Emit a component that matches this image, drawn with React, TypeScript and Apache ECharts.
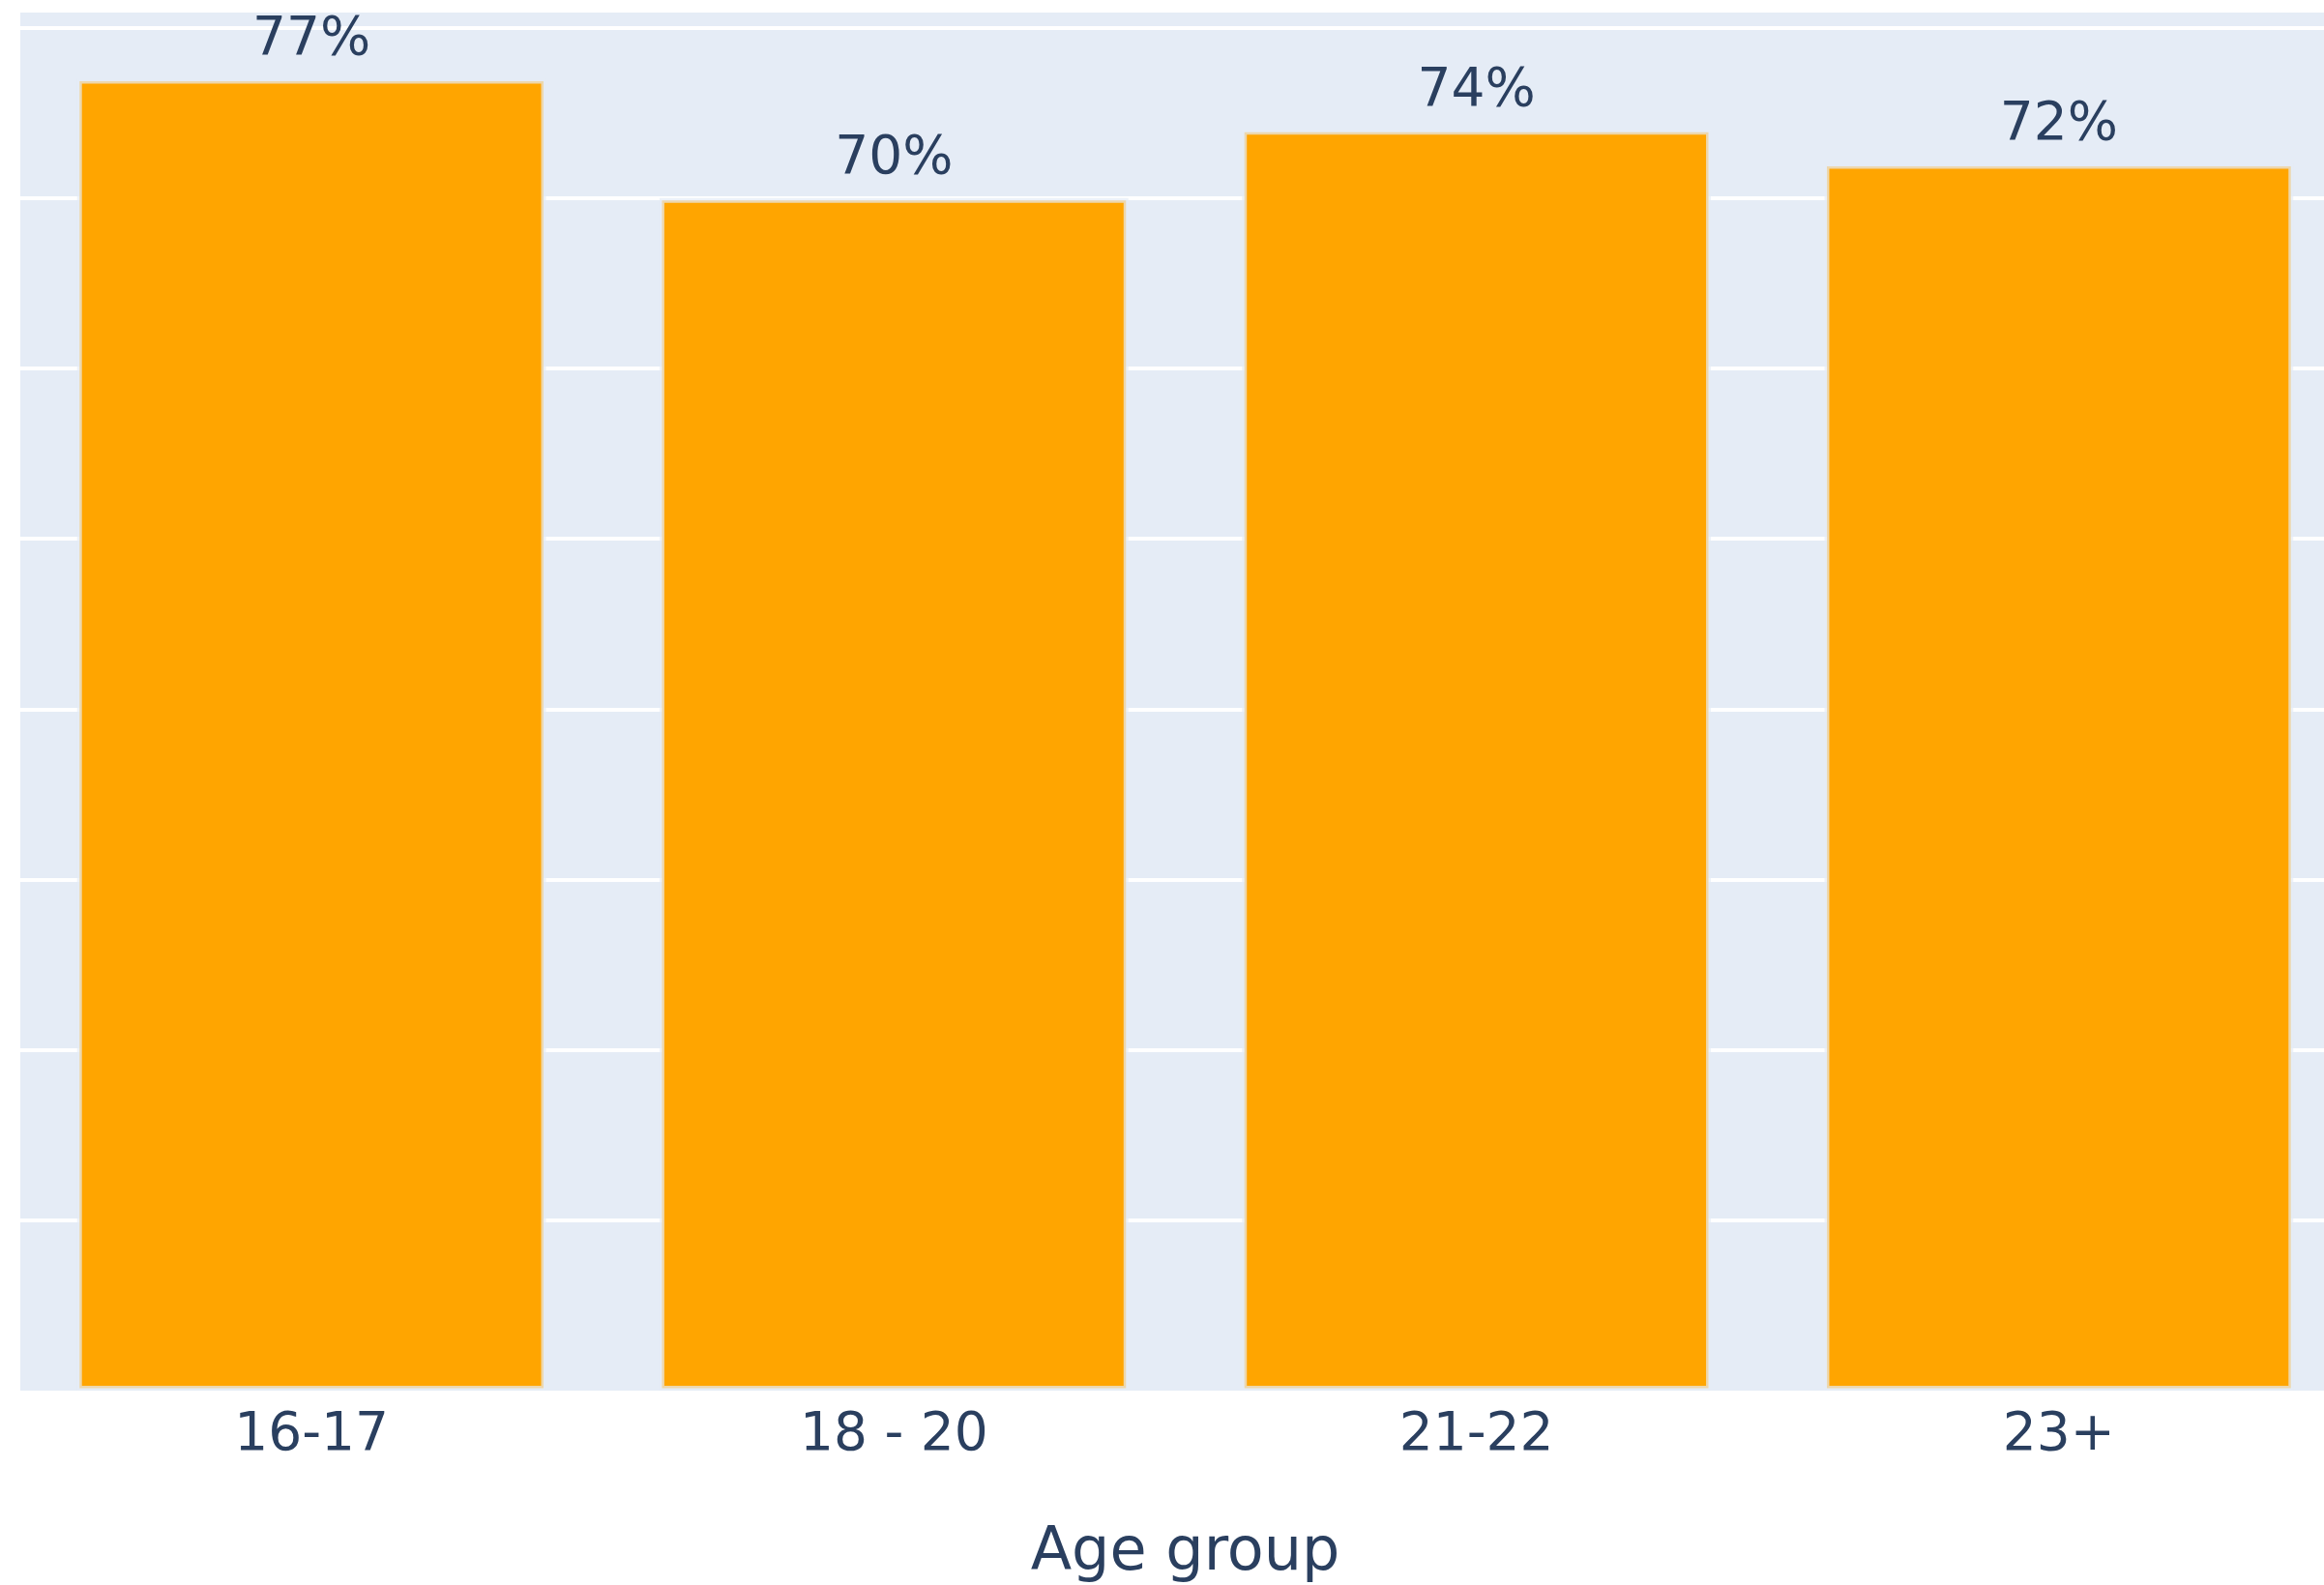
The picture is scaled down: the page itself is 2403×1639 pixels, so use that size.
import React, { useEffect, useRef } from "react";
import * as echarts from "echarts";

// Share of respondents by age group (percent)
const ageGroups: string[] = ["16-17", "18 - 20", "21-22", "23+"];
const shares: number[] = [77, 70, 74, 72];

const axisTitle = "Age group";
const textColor = "#2a3f5f";
const fontFamily = "'DejaVu Sans', Verdana, sans-serif";

export default function App() {
  const ref = useRef<HTMLDivElement>(null);

  useEffect(() => {
    if (!ref.current) return;
    const chart = echarts.init(ref.current, undefined, { renderer: "svg" });
    chart.setOption({
      animation: false,
      backgroundColor: "#ffffff",
      grid: {
        left: 21,
        top: 11,
        width: 2409,
        height: 1427,
        show: true,
        backgroundColor: "#E5ECF6",
        borderWidth: 0,
        containLabel: false,
      },
      xAxis: {
        type: "category",
        data: ageGroups,
        axisLine: { show: false },
        axisTick: { show: false },
        axisLabel: {
          color: textColor,
          fontFamily,
          fontSize: 55,
          margin: 14,
        },
        name: axisTitle,
        nameLocation: "middle",
        nameGap: 132,
        nameTextStyle: { color: textColor, fontFamily, fontSize: 62 },
      },
      yAxis: {
        type: "value",
        min: 0,
        max: 81,
        interval: 10,
        axisLabel: { show: false },
        axisLine: { show: false },
        axisTick: { show: false },
        splitLine: {
          show: true,
          showMinLine: false,
          lineStyle: { color: "#ffffff", width: 4 },
        },
      },
      series: [
        {
          type: "bar",
          data: shares,
          barWidth: "80.5%",
          itemStyle: {
            color: "#FFA500",
            borderColor: "rgba(229,236,246,0.7)",
            borderWidth: 5,
          },
          label: {
            show: true,
            position: "top",
            distance: 17,
            formatter: "{c}%",
            color: textColor,
            fontFamily,
            fontSize: 55,
          },
        },
      ],
    });
    return () => chart.dispose();
  }, []);

  // The plot runs past the right edge of the page, so the chart is wider than its frame.
  return (
    <div style={{ position: "fixed", left: 0, top: 0, width: 2403, height: 1639, overflow: "hidden" }}>
      <div ref={ref} style={{ width: 2440, height: 1639 }} />
    </div>
  );
}
